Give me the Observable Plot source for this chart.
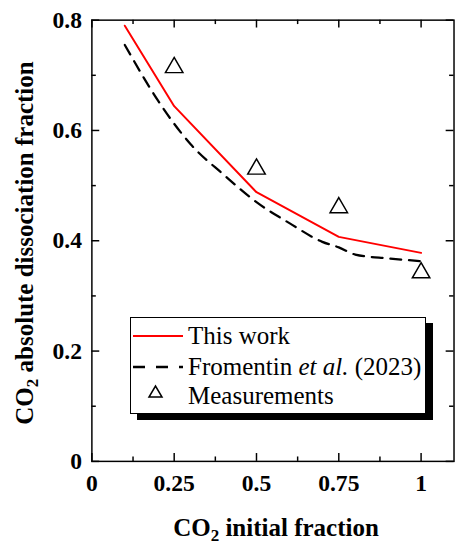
<!DOCTYPE html>
<html><head><meta charset="utf-8">
<script src="https://cdn.jsdelivr.net/npm/d3@7"></script>
<script src="https://cdn.jsdelivr.net/npm/@observablehq/plot@0.6"></script>
<style>
html,body{margin:0;padding:0;background:#fff;overflow:hidden;}
#wrap{position:relative;width:455px;height:545px;overflow:hidden;font-family:"Liberation Serif","Times New Roman",serif;color:#000;}
#chart svg{position:absolute;left:0;top:0;}
#chart svg text{font-family:"Liberation Serif","Times New Roman",serif;font-weight:bold;}
.title{position:absolute;font-family:"Liberation Serif","Times New Roman",serif;font-weight:bold;font-size:25px;white-space:nowrap;line-height:1;}
.title sub{font-size:0.68em;vertical-align:baseline;position:relative;top:0.32em;}
#ytitle{left:24px;top:243px;transform:translate(-50%,-50%) rotate(-90deg);}
#xtitle{left:276px;top:527px;transform:translate(-50%,-50%);}
#legend{position:absolute;left:130px;top:317px;width:294px;height:95px;border:1.5px solid #000;background:#fff;box-shadow:7px 6px 0 #000;font-family:"Liberation Serif","Times New Roman",serif;font-size:25px;}
.row{position:absolute;left:0;height:30px;width:100%;}
.row svg{position:absolute;left:2px;top:0;}
.row span{position:absolute;left:57px;top:1px;line-height:28px;white-space:nowrap;font-family:"Liberation Serif","Times New Roman",serif;}
</style>
</head><body>
<div id="wrap">
  <div id="chart"></div>
  <div class="title" id="ytitle">CO<sub>2</sub> absolute dissociation fraction</div>
  <div class="title" id="xtitle">CO<sub>2</sub> initial fraction</div>
  <div id="legend"></div>
</div>
<script>
// Data
const xModel = [0.1, 0.25, 0.5, 0.75, 1.0];
const thisWork = [0.790, 0.644, 0.488, 0.407, 0.378];
const xFromentin = [0.1, 0.2, 0.25, 0.3, 0.4, 0.5, 0.6, 0.7, 0.75, 0.8, 0.9, 1.0];
const fromentin = [0.755, 0.655, 0.612, 0.575, 0.52, 0.47, 0.432, 0.398, 0.388, 0.375, 0.368, 0.363];
const xMeas = [0.25, 0.5, 0.75, 1.0];
const measurements = [0.714, 0.530, 0.460, 0.342];
const xTicks = [0, 0.25, 0.5, 0.75, 1];
const xTickLabels = ["0", "0.25", "0.5", "0.75", "1"];
const xMinor = [0.125, 0.375, 0.625, 0.875];
const yTicks = [0, 0.2, 0.4, 0.6, 0.8];
const yTickLabels = ["0", "0.2", "0.4", "0.6", "0.8"];
const yMinor = [0.1, 0.3, 0.5, 0.7];

const W = 463, H = 545, mL = 93, mR = 1.5, mT = 20, mB = 76;
const innerW = W - mL - mR, innerH = H - mT - mB;
const majorLen = 8, minorLen = 4.5;

const tw = xModel.map((x, i) => ({x, y: thisWork[i]}));
const fr = xFromentin.map((x, i) => ({x, y: fromentin[i]}));
const ms = xMeas.map((x, i) => ({x, y: measurements[i]}));

const chart = Plot.plot({
  width: W, height: H,
  marginLeft: mL, marginRight: mR, marginTop: mT, marginBottom: mB,
  style: {fontFamily: '"Liberation Serif","Times New Roman",serif', fontWeight: "bold", fontSize: "24px", color: "#000", background: "transparent"},
  x: {domain: [0, 1.1]},
  y: {domain: [0, 0.8]},
  marks: [
    Plot.tickX(xTicks, {x: d => d, insetTop: innerH - majorLen, strokeWidth: 1.5}),
    Plot.tickX(xTicks, {x: d => d, insetBottom: innerH - majorLen, strokeWidth: 1.5}),
    Plot.tickX(xMinor, {x: d => d, insetTop: innerH - minorLen, strokeWidth: 1.5}),
    Plot.tickX(xMinor, {x: d => d, insetBottom: innerH - minorLen, strokeWidth: 1.5}),
    Plot.tickY(yTicks, {y: d => d, insetRight: innerW - majorLen, strokeWidth: 1.5}),
    Plot.tickY(yTicks, {y: d => d, insetLeft: innerW - majorLen, strokeWidth: 1.5}),
    Plot.tickY(yMinor, {y: d => d, insetRight: innerW - minorLen, strokeWidth: 1.5}),
    Plot.tickY(yMinor, {y: d => d, insetLeft: innerW - minorLen, strokeWidth: 1.5}),
    Plot.axisX(xTicks, {tickSize: 0, tickPadding: 13, label: null, fontSize: 24, fontWeight: "bold",
      tickFormat: d => xTickLabels[xTicks.indexOf(d)]}),
    Plot.axisY(yTicks, {tickSize: 0, tickPadding: 10, label: null, fontSize: 24, fontWeight: "bold",
      tickFormat: d => yTickLabels[yTicks.indexOf(d)]}),
    Plot.frame({strokeWidth: 1.5}),
    Plot.line(fr, {x: "x", y: "y", stroke: "#000", strokeWidth: 2.3, strokeDasharray: "11,8", curve: "monotone-x"}),
    Plot.line(tw, {x: "x", y: "y", stroke: "#ff0000", strokeWidth: 2}),
    Plot.dot(ms, {x: "x", y: "y", symbol: "triangle2", r: 8.5, stroke: "#000", strokeWidth: 1.5, fill: "none"})
  ]
});
document.getElementById("chart").appendChild(chart);

// Legend
const legend = document.getElementById("legend");
const rows = [
  {label: "This work", top: 3, svg: '<svg width="52" height="30"><line x1="0" y1="15" x2="50" y2="15" stroke="#ff0000" stroke-width="2"/></svg>'},
  {label: 'Fromentin <i>et al.</i> (2023)', top: 34, svg: '<svg width="52" height="30"><line x1="0" y1="15" x2="50" y2="15" stroke="#000" stroke-width="2.3" stroke-dasharray="12,11"/></svg>'},
  {label: "Measurements", top: 63, svg: '<svg width="52" height="30"><path d="M16,16 L29,16 L22.5,5 Z" fill="none" stroke="#000" stroke-width="1.5"/></svg>'}
];
rows.forEach(r => {
  const d = document.createElement("div");
  d.className = "row";
  d.style.top = r.top + "px";
  d.innerHTML = r.svg + "<span>" + r.label + "</span>";
  legend.appendChild(d);
});
</script>
</body></html>
